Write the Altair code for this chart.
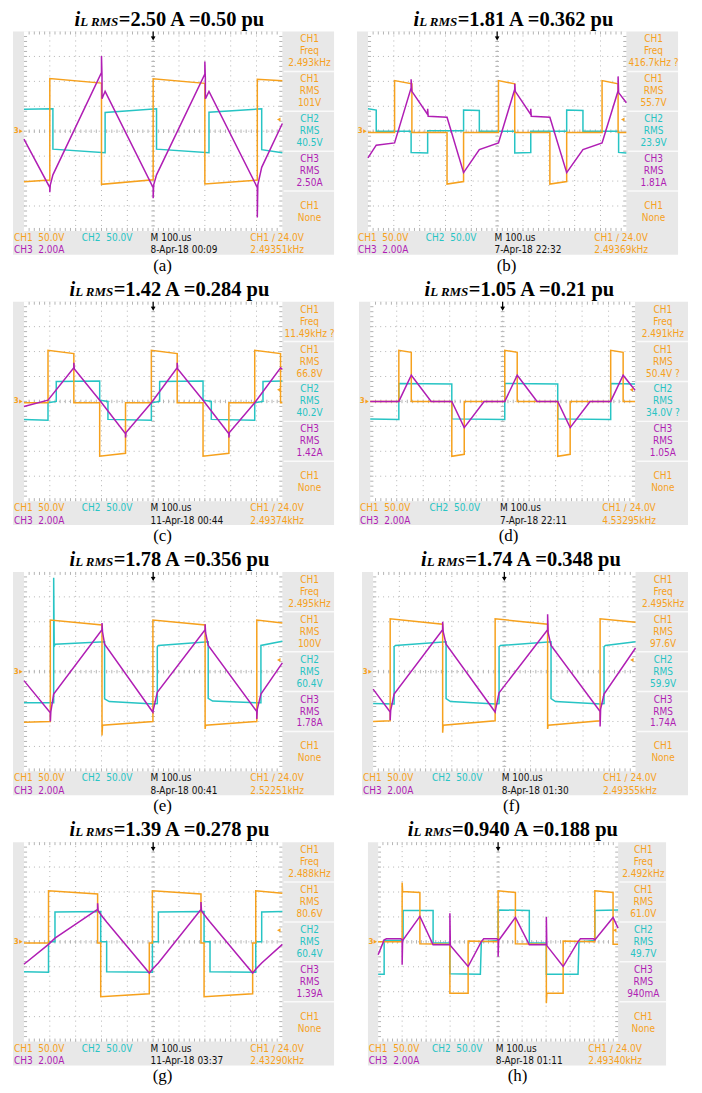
import altair as alt
import pandas as pd
import numpy as np

ORANGE = "#f6a11d"
CYAN = "#27c4c4"
MAGENTA = "#b01eb4"
GRAY = "#e8e8e8"
GRID = "#b4b4b4"
SCOPE_FONT = "Liberation Sans Narrow, Arial Narrow, DejaVu Sans Condensed, Liberation Sans"
SERIF = "Liberation Serif"

# ---------------- text read-outs ----------------
panel_ids = ["a", "b", "c", "d", "e", "f", "g", "h"]
title_current = ["2.50", "1.81", "1.42", "1.05", "1.78", "1.74", "1.39", "0.940"]
title_pu = ["0.50", "0.362", "0.284", "0.21", "0.356", "0.348", "0.278", "0.188"]
freq_readout = ["2.493kHz", "416.7kHz ?", "11.49kHz ?", "2.491kHz", "2.495kHz", "2.495kHz", "2.488kHz", "2.492kHz"]
ch1_rms = ["101V", "55.7V", "66.8V", "50.4V ?", "100V", "97.6V", "80.6V", "61.0V"]
ch2_rms = ["40.5V", "23.9V", "40.2V", "34.0V ?", "60.4V", "59.9V", "60.4V", "49.7V"]
ch3_rms = ["2.50A", "1.81A", "1.42A", "1.05A", "1.78A", "1.74A", "1.39A", "940mA"]
timestamps = ["8-Apr-18 00:09", "7-Apr-18 22:32", "11-Apr-18 00:44", "7-Apr-18 22:11",
              "8-Apr-18 00:41", "8-Apr-18 01:30", "11-Apr-18 03:37", "8-Apr-18 01:11"]
trig_freq = ["2.49351kHz", "2.49369kHz", "2.49374kHz", "4.53295kHz",
             "2.52251kHz", "2.49355kHz", "2.43290kHz", "2.49340kHz"]

# ---------------- waveforms (time div, amplitude div) ----------------
a_ch1 = [(0, -2.03), (1.0, -1.96), (1.0, 2.11), (3.0, 1.93), (3.0, -2.13), (5.0, -1.95), (5.0, 2.10),
         (7.0, 1.92), (7.0, -2.12), (9.03, -1.96), (9.03, 2.08), (10, 2.02)]
a_ch2 = [(0, 0.88), (1.12, 0.90), (1.12, -0.72), (3.14, -0.86), (3.14, 0.75), (5.13, 0.90), (5.13, -0.72),
         (7.16, -0.86), (7.16, 0.76), (9.2, 0.90), (9.2, -0.74), (10, -0.86)]
a_ch3 = [(0, -0.32), (1.0, -2.26), (1.0, -2.45), (1.02, -2.15), (1.12, -1.75), (3.0, 2.35), (3.0, 3.02),
         (3.02, 2.2), (3.02, 1.3), (3.14, 1.6), (5.0, -2.26), (5.0, -2.69), (5.02, -2.15), (5.13, -1.75),
         (7.0, 2.29), (7.0, 2.8), (7.02, 2.1), (7.02, 1.3), (7.16, 1.6), (9.03, -2.26), (9.03, -3.46),
         (9.05, -2.15), (9.2, -1.45), (10, 0.31)]

b_ch1 = [(0, -0.05), (1.03, -0.05), (1.03, 2.03), (1.70, 1.90), (1.70, -0.05), (3.06, -0.05), (3.06, -2.12),
         (3.70, -2.02), (3.70, -0.05), (5.05, -0.05), (5.05, 2.03), (5.68, 1.90), (5.68, -0.05), (7.04, -0.05),
         (7.04, -2.12), (7.69, -2.02), (7.69, -0.05), (9.06, -0.05), (9.06, 2.03), (9.68, 1.90), (9.68, -0.05),
         (10, -0.05)]
b_ch2 = [(0, 0.90), (0.32, 0.85), (0.32, 0.0), (1.67, 0.0), (1.67, -0.85), (2.31, -0.87), (2.31, 0.02),
         (3.70, 0.02), (3.70, 0.85), (4.31, 0.83), (4.31, 0.0), (5.68, 0.0), (5.68, -0.87), (6.30, -0.85),
         (6.30, 0.0), (7.69, 0.0), (7.69, 0.85), (8.32, 0.83), (8.32, 0.0), (9.70, 0.0), (9.70, -0.85),
         (10, -0.87)]
b_ch3 = [(0, -1.07), (0.32, -0.56), (1.03, -0.47), (1.67, 1.74), (1.67, 2.08), (1.70, 1.6), (2.31, 0.67),
         (2.31, 0.9), (2.33, 0.6), (3.06, 0.56), (3.70, -1.66), (4.31, -0.74), (5.05, -0.47), (5.68, 1.68),
         (5.68, 1.9), (5.70, 1.6), (6.30, 0.67), (6.30, 0.9), (6.32, 0.6), (7.04, 0.56), (7.69, -1.66),
         (8.32, -0.74), (9.06, -0.47), (9.68, 1.62), (9.68, 2.2), (9.70, 1.55), (10, 1.14)]

c_ch1 = [(0, -0.05), (0.93, -0.05), (0.93, 2.05), (1.93, 1.92), (1.93, -0.05), (2.93, -0.05), (2.93, -2.2),
         (3.93, -2.08), (3.93, -0.05), (4.93, -0.05), (4.93, 2.05), (5.93, 1.92), (5.93, -0.05), (6.93, -0.05),
         (6.93, -2.2), (7.93, -2.08), (7.93, -0.05), (8.93, -0.05), (8.93, 2.05), (9.93, 1.92), (9.93, -0.05),
         (10, -0.05)]
c_ch2 = [(0, -0.72), (0.93, -0.75), (0.93, -0.05), (1.25, 0.0), (1.25, 0.8), (2.93, 0.82), (2.93, 0.05),
         (3.25, 0.0), (3.25, -0.72), (4.93, -0.75), (4.93, -0.05), (5.25, 0.0), (5.25, 0.8), (6.93, 0.82),
         (6.93, 0.05), (7.25, 0.0), (7.25, -0.72), (8.93, -0.75), (8.93, -0.05), (9.25, 0.0), (9.25, 0.8),
         (10, 0.82)]
c_ch3 = [(0, -0.2), (0.93, 0.05), (1.93, 1.35), (1.93, 1.55), (1.95, 1.3), (2.93, 0.05), (3.93, -1.3),
         (3.93, -1.45), (3.95, -1.25), (4.93, -0.05), (5.93, 1.35), (5.93, 1.55), (5.95, 1.3), (6.93, 0.05),
         (7.93, -1.3), (7.93, -1.45), (7.95, -1.25), (8.93, -0.05), (9.93, 1.35), (10, 1.28)]

d_ch1 = [(0, 0.0), (1.08, 0.0), (1.08, 2.05), (1.55, 1.97), (1.55, 0.0), (3.08, 0.0), (3.08, -2.2),
         (3.55, -2.12), (3.55, 0.0), (5.08, 0.0), (5.08, 2.05), (5.55, 1.97), (5.55, 0.0), (7.08, 0.0),
         (7.08, -2.2), (7.55, -2.12), (7.55, 0.0), (9.08, 0.0), (9.08, 2.05), (9.55, 1.97), (9.55, 0.0),
         (10, 0.0)]
d_ch2 = [(0, -0.7), (1.08, -0.72), (1.08, 0.72), (3.08, 0.7), (3.08, -0.7), (5.08, -0.72), (5.08, 0.72),
         (7.08, 0.7), (7.08, -0.7), (9.08, -0.72), (9.08, 0.72), (10, 0.7)]
d_ch3 = [(0, 0.0), (1.08, 0.0), (1.55, 1.05), (2.3, 0.0), (3.08, 0.0), (3.55, -1.05), (4.3, 0.0),
         (5.08, 0.0), (5.55, 1.05), (6.3, 0.0), (7.08, 0.0), (7.55, -1.05), (8.3, 0.0), (9.08, 0.0),
         (9.55, 1.05), (10, 0.45)]

e_ch1 = [(0, -2.03), (1.02, -2.0), (1.02, 2.07), (3.02, 1.87), (3.02, -2.56), (3.04, -2.15), (4.99, -2.0),
         (4.99, 2.07), (7.01, 1.87), (7.01, -2.3), (7.03, -2.15), (9.01, -2.0), (9.01, 2.07), (10, 1.95)]
e_ch2 = [(0, -1.25), (1.15, -1.25), (1.15, 3.77), (1.17, 1.0), (1.2, 1.1), (3.12, 1.2), (3.12, -1.09),
         (3.3, -1.2), (5.03, -1.3), (5.16, -1.28), (5.16, 1.0), (5.2, 1.05), (7.13, 1.2), (7.13, -1.07),
         (7.3, -1.18), (9.08, -1.25), (9.17, -1.25), (9.17, 1.05), (10, 1.22)]
e_ch3 = [(0, -0.36), (1.02, -1.65), (1.02, -2.0), (1.04, -1.6), (1.15, -0.9), (3.02, 1.68), (3.02, 1.95),
         (3.04, 1.6), (3.12, 1.1), (4.99, -1.63), (5.01, -1.5), (5.16, -0.83), (7.01, 1.68), (7.01, 1.9),
         (7.03, 1.55), (7.13, 1.05), (9.01, -1.6), (9.01, -1.9), (9.03, -1.5), (9.17, -0.9), (10, 0.35)]

f_ch1 = [(0, -2.0), (0.65, -1.97), (0.65, 2.12), (2.65, 1.9), (2.65, -2.45), (2.67, -2.15), (4.65, -1.97),
         (4.65, 2.12), (6.65, 1.9), (6.65, -2.3), (6.67, -2.15), (8.65, -1.97), (8.65, 2.12), (10, 1.98)]
f_ch2 = [(0, -1.28), (0.8, -1.3), (0.8, 1.0), (0.85, 1.05), (2.78, 1.2), (2.78, -1.08), (2.95, -1.2),
         (4.68, -1.3), (4.8, -1.28), (4.8, 1.0), (4.85, 1.05), (6.78, 1.2), (6.78, -1.08), (6.95, -1.2),
         (8.68, -1.3), (8.8, -1.28), (8.8, 1.0), (8.85, 1.05), (10, 1.2)]
f_ch3 = [(0, -0.7), (0.65, -1.62), (0.65, -1.95), (0.67, -1.55), (0.8, -0.9), (2.65, 1.68), (2.65, 2.0),
         (2.67, 1.6), (2.78, 1.1), (4.65, -1.62), (4.67, -1.5), (4.8, -0.85), (6.65, 1.68), (6.65, 2.3),
         (6.67, 1.55), (6.78, 1.05), (8.65, -1.6), (8.65, -2.2), (8.67, -1.5), (8.8, -0.9), (10, 0.95)]

g_ch1 = [(0, -0.05), (0.95, -0.05), (0.95, 2.05), (2.85, 1.92), (2.85, -0.05), (2.97, -0.05), (2.97, -2.2),
         (4.85, -2.08), (4.85, -0.05), (4.97, -0.05), (4.97, 2.05), (6.85, 1.92), (6.85, -0.05), (6.97, -0.05),
         (6.97, -2.2), (8.85, -2.08), (8.85, -0.05), (8.97, -0.05), (8.97, 2.05), (10, 1.95)]
g_ch2 = [(0, -1.2), (0.95, -1.22), (0.95, 0.0), (1.2, 0.0), (1.2, 1.2), (2.97, 1.22), (2.97, 0.0),
         (3.2, 0.0), (3.2, -1.2), (4.97, -1.22), (4.97, 0.0), (5.2, 0.0), (5.2, 1.2), (6.97, 1.22),
         (6.97, 0.0), (7.2, 0.0), (7.2, -1.2), (8.97, -1.22), (8.97, 0.0), (9.2, 0.0), (9.2, 1.2), (10, 1.22)]
g_ch3 = [(0, -0.9), (0.95, -0.1), (1.2, 0.15), (2.85, 1.3), (2.85, 1.55), (2.87, 1.25), (2.97, 1.1),
         (3.2, 0.8), (4.85, -1.25), (4.97, -1.1), (5.2, -0.85), (6.85, 1.3), (6.85, 1.6), (6.87, 1.25),
         (6.97, 1.1), (7.2, 0.8), (8.85, -1.25), (8.97, -1.1), (9.2, -0.85), (10, -0.1)]

h_ch1 = [(0, 0.0), (1.0, 0.0), (1.0, 2.38), (1.02, 2.02), (1.74, 1.98), (1.74, -0.08), (2.99, -0.1),
         (2.99, -2.06), (3.75, -2.06), (3.75, 0.03), (5.0, 0.0), (5.0, 2.05), (5.72, 1.98), (5.72, -0.08),
         (7.01, -0.1), (7.01, -2.46), (7.03, -2.06), (7.71, -2.06), (7.71, 0.03), (9.03, 0.0), (9.03, 2.05),
         (9.79, 1.98), (9.79, -0.1), (10, -0.1)]
h_ch2 = [(0, -1.3), (0.25, -1.3), (0.25, 0.05), (1.04, 0.05), (1.04, 1.26), (2.29, 1.26), (2.29, -0.05),
         (2.99, -0.05), (2.99, -1.28), (4.26, -1.3), (4.3, 0.0), (5.0, 0.05), (5.0, 1.28), (6.3, 1.26),
         (6.3, -0.05), (7.01, -0.05), (7.01, -1.3), (8.33, -1.3), (8.37, 0.0), (9.03, 0.05), (9.03, 1.26),
         (10, 1.28)]
h_ch3 = [(0, -0.52), (0.25, 0.08), (0.35, 0.12), (0.95, 0.12), (1.0, 0.08), (1.0, -0.92), (1.02, 0.05),
         (1.74, 1.02), (2.29, -0.12), (2.99, -0.12), (2.99, 1.15), (3.01, -0.15), (3.75, -0.99), (4.3, 0.01),
         (4.4, 0.12), (4.95, 0.12), (5.0, 0.08), (5.0, -0.6), (5.02, 0.05), (5.72, 0.98), (6.3, -0.12),
         (7.01, -0.12), (7.01, 1.0), (7.03, -0.15), (7.71, -0.99), (8.33, 0.01), (8.43, 0.12), (8.98, 0.12),
         (9.03, 0.08), (9.79, 0.98), (10, 0.55)]

waves = {
    "a": (a_ch1, a_ch2, a_ch3), "b": (b_ch1, b_ch2, b_ch3), "c": (c_ch1, c_ch2, c_ch3),
    "d": (d_ch1, d_ch2, d_ch3), "e": (e_ch1, e_ch2, e_ch3), "f": (f_ch1, f_ch2, f_ch3),
    "g": (g_ch1, g_ch2, g_ch3), "h": (h_ch1, h_ch2, h_ch3),
}

# ---------------- layout ----------------
panel_widths = [322, 322, 322, 330, 322, 327, 322, 299]
row_spacing = [23, 25, 28, 34]
H = 224
XD = [-0.425, 12.0]
YD = [-4.96, 4.0]

TB = {"=": 570, ".": 250, " ": 250, "A": 722, "p": 556, "u": 556}
TITLE_SIZE = 20.5
SUB_SIZE = 13


def tb_width(s, size):
    return sum(TB.get(ch, 500) for ch in s) * size / 1000.0


def pts_df(pts):
    return pd.DataFrame({"x": [p[0] for p in pts], "y": [p[1] for p in pts], "i": list(range(len(pts)))})


def panel(k):
    pid = panel_ids[k]
    W = panel_widths[k]
    xs = alt.Scale(domain=XD, nice=False, zero=False)
    ys = alt.Scale(domain=YD, nice=False, zero=False)

    def X(f):
        return alt.X(f + ":Q", scale=xs, axis=None)

    def Y(f):
        return alt.Y(f + ":Q", scale=ys, axis=None)

    layers = []
    screen = pd.DataFrame({"x": [0], "x2": [10], "y": [-4], "y2": [4]})
    layers.append(alt.Chart(screen).mark_rect(fill="white").encode(x=X("x"), x2="x2", y=Y("y"), y2="y2"))

    sep = pd.DataFrame({"x": [10.05] * 4, "x2": [12.0] * 4, "y": [4 - 1.6 * j for j in range(1, 5)]})
    layers.append(alt.Chart(sep).mark_rule(color="#fafafa", strokeWidth=1.5)
                  .encode(x=X("x"), x2="x2", y=Y("y")))

    grid = [dict(x=i, x2=i, y=-4, y2=4) for i in range(1, 10)] + \
           [dict(x=0, x2=10, y=j, y2=j) for j in range(-3, 4)]
    layers.append(alt.Chart(pd.DataFrame(grid)).mark_rule(color=GRID, strokeDash=[1, 4], strokeWidth=1)
                  .encode(x=X("x"), x2="x2", y=Y("y"), y2="y2"))

    ticks = []
    for s in np.round(np.arange(0.2, 10, 0.2), 2):
        ticks += [dict(x=s, x2=s, y=4, y2=3.88), dict(x=s, x2=s, y=-4, y2=-3.88),
                  dict(x=s, x2=s, y=-0.07, y2=0.07)]
    for t in np.round(np.arange(-3.8, 4, 0.2), 2):
        ticks += [dict(x=0, x2=0.12, y=t, y2=t), dict(x=9.88, x2=10, y=t, y2=t),
                  dict(x=4.93, x2=5.07, y=t, y2=t)]
    layers.append(alt.Chart(pd.DataFrame(ticks)).mark_rule(color=GRID, strokeWidth=1)
                  .encode(x=X("x"), x2="x2", y=Y("y"), y2="y2"))

    ch1, ch2, ch3 = waves[pid]
    for pts, col in [(ch2, CYAN), (ch1, ORANGE), (ch3, MAGENTA)]:
        layers.append(alt.Chart(pts_df(pts)).mark_line(color=col, strokeWidth=1.5)
                      .encode(x=X("x"), y=Y("y"), order=alt.Order("i:Q")))

    # markers
    layers.append(alt.Chart(pd.DataFrame({"x": [5], "y": [4], "y2": [3.72]}))
                  .mark_rule(color="black", strokeWidth=1.2).encode(x=X("x"), y=Y("y"), y2="y2"))
    layers.append(alt.Chart(pd.DataFrame({"x": [5], "y": [3.72]}))
                  .mark_point(shape="triangle-down", filled=True, color="black", size=22, opacity=1)
                  .encode(x=X("x"), y=Y("y")))
    layers.append(alt.Chart(pd.DataFrame({"x": [-0.30], "y": [0], "t": ["3"]}))
                  .mark_text(font=SCOPE_FONT, fontSize=8, fontWeight="bold", color=ORANGE, baseline="middle")
                  .encode(x=X("x"), y=Y("y"), text="t:N"))
    layers.append(alt.Chart(pd.DataFrame({"x": [-0.12, 9.86], "y": [0, 0.47], "s": ["triangle-right", "triangle-left"]}))
                  .mark_point(filled=True, color=ORANGE, size=16, opacity=1)
                  .encode(x=X("x"), y=Y("y"), shape=alt.Shape("s:N", scale=None)))

    # side panel read-outs
    boxes = [("CH1", "Freq", freq_readout[k], ORANGE), ("CH1", "RMS", ch1_rms[k], ORANGE),
             ("CH2", "RMS", ch2_rms[k], CYAN), ("CH3", "RMS", ch3_rms[k], MAGENTA)]
    side = []
    for b, (l1, l2, l3, c) in enumerate(boxes):
        top = 4 - 1.6 * b
        for j, t in enumerate([l1, l2, l3]):
            side.append(dict(x=11.05, y=top - 0.32 - 0.48 * j, t=t, c=c))
    side += [dict(x=11.05, y=4 - 6.4 - 0.6, t="CH1", c=ORANGE), dict(x=11.05, y=4 - 6.4 - 1.08, t="None", c=ORANGE)]
    layers.append(alt.Chart(pd.DataFrame(side))
                  .mark_text(font=SCOPE_FONT, fontSize=10, align="center", baseline="middle")
                  .encode(x=X("x"), y=Y("y"), text="t:N", color=alt.Color("c:N", scale=None)))

    # bottom strip
    nb = "\u00a0\u00a0"
    strip = [
        dict(x=-0.39, y=-4.28, t="CH1" + nb + "50.0V", c=ORANGE),
        dict(x=2.24, y=-4.28, t="CH2" + nb + "50.0V", c=CYAN),
        dict(x=4.90, y=-4.28, t="M 100.us", c="#111111"),
        dict(x=8.76, y=-4.28, t="CH1 \u2215 24.0V", c=ORANGE),
        dict(x=-0.39, y=-4.78, t="CH3" + nb + "2.00A", c=MAGENTA),
        dict(x=4.90, y=-4.78, t=timestamps[k], c="#111111"),
        dict(x=8.76, y=-4.78, t=trig_freq[k], c=ORANGE),
    ]
    layers.append(alt.Chart(pd.DataFrame(strip))
                  .mark_text(font=SCOPE_FONT, fontSize=10, align="left", baseline="middle")
                  .encode(x=X("x"), y=Y("y"), text="t:N", color=alt.Color("c:N", scale=None)))

    # title: i_{L RMS}=... A =... pu
    main = "=" + title_current[k] + " A =" + title_pu[k] + " pu"
    main_w = tb_width(main, TITLE_SIZE)
    sub_w = (611 + 250 + 667 + 889 + 556) * SUB_SIZE / 1000.0
    i_w = 278 * TITLE_SIZE / 1000.0
    left = W / 2 - 3 - (main_w + sub_w + i_w) / 2
    anchor = left + i_w + sub_w
    base_y = -6
    layers.append(alt.Chart(pd.DataFrame({"t": [main]}))
                  .mark_text(font=SERIF, fontSize=TITLE_SIZE, fontWeight="bold", align="left",
                             baseline="alphabetic", color="black")
                  .encode(x=alt.value(anchor), y=alt.value(base_y), text="t:N"))
    layers.append(alt.Chart(pd.DataFrame({"t": ["L RMS"]}))
                  .mark_text(font=SERIF, fontSize=SUB_SIZE, fontWeight="bold", fontStyle="italic",
                             align="right", baseline="alphabetic", color="black")
                  .encode(x=alt.value(anchor - 0.5), y=alt.value(base_y), text="t:N"))
    layers.append(alt.Chart(pd.DataFrame({"t": ["i"]}))
                  .mark_text(font=SERIF, fontSize=TITLE_SIZE, fontWeight="bold", fontStyle="italic",
                             align="right", baseline="alphabetic", color="black")
                  .encode(x=alt.value(anchor - sub_w), y=alt.value(base_y), text="t:N"))
    layers.append(alt.Chart(pd.DataFrame({"t": ["(" + pid + ")"]}))
                  .mark_text(font=SERIF, fontSize=17, align="center", baseline="middle", color="black")
                  .encode(x=alt.value(150), y=alt.value(H + 11), text="t:N"))

    return alt.layer(*layers).properties(width=W, height=H)


rows = []
for r in range(4):
    rows.append(alt.hconcat(panel(2 * r), panel(2 * r + 1), spacing=row_spacing[r], bounds="flush"))

chart = alt.vconcat(*rows, spacing=6).configure_view(
    stroke=None, fill=GRAY
).properties(padding={"left": 5, "top": 0, "right": 5, "bottom": 5}, background="white")

chart.save("out.html", embed_options={"renderer": "svg", "actions": False})
